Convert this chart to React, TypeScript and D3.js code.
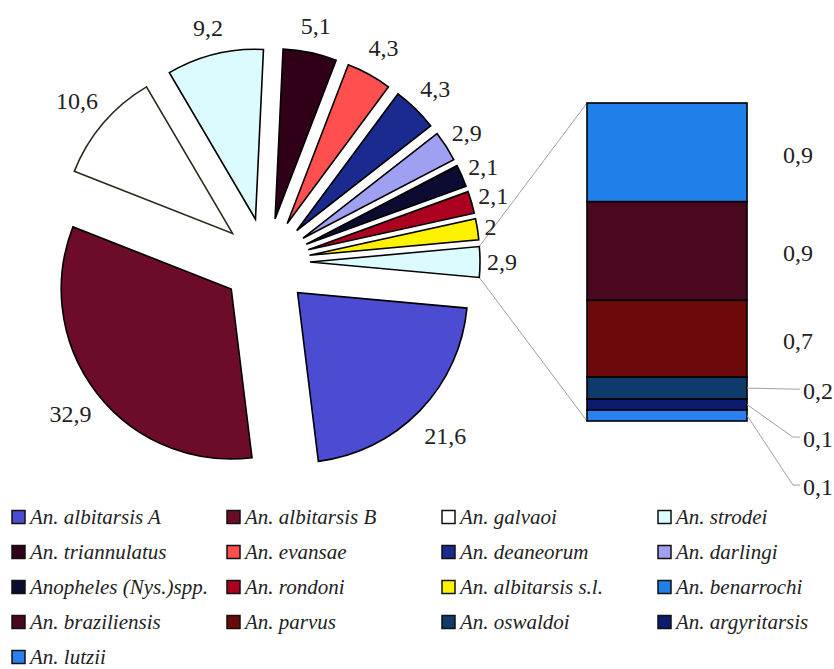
import React from 'react';
import * as d3 from 'd3';

// Species shown as pie slices (last slice groups the species detailed in the bar)
const pieNames = [
  'An. albitarsis A',
  'An. albitarsis B',
  'An. galvaoi',
  'An. strodei',
  'An. triannulatus',
  'An. evansae',
  'An. deaneorum',
  'An. darlingi',
  'Anopheles (Nys.)spp.',
  'An. rondoni',
  'An. albitarsis s.l.',
  'Outras',
];
const pieValues = [21.6, 32.9, 10.6, 9.2, 5.1, 4.3, 4.3, 2.9, 2.1, 2.1, 2, 2.9];
const pieColors = [
  '#4c4cd2',
  '#6c0c28',
  '#ffffff',
  '#dcfbff',
  '#300018',
  '#ff4f4f',
  '#1a2a8e',
  '#a0a0f2',
  '#0c0c32',
  '#ac0020',
  '#fff200',
  '#dcfbff',
];

// Species detailed in the stacked bar (top to bottom)
const barNames = ['An. benarrochi', 'An. braziliensis', 'An. parvus', 'An. oswaldoi', 'An. argyritarsis', 'An. lutzii'];
const barValues = [0.9, 0.9, 0.7, 0.2, 0.1, 0.1];
const barColors = ['#2080ea', '#4a0820', '#6c0a0a', '#0f3b6c', '#0c1a70', '#2a80f0'];

// Legend entries, row by row
const legendNames = [
  'An. albitarsis A', 'An. albitarsis B', 'An. galvaoi', 'An. strodei',
  'An. triannulatus', 'An. evansae', 'An. deaneorum', 'An. darlingi',
  'Anopheles (Nys.)spp.', 'An. rondoni', 'An. albitarsis s.l.', 'An. benarrochi',
  'An. braziliensis', 'An. parvus', 'An. oswaldoi', 'An. argyritarsis',
  'An. lutzii',
];

const W = 834;
const H = 669;
const SERIF = 'Liberation Serif';

const fmt = (v: number) => String(v).replace('.', ',');
const textWidth = (s: string, size: number) =>
  s.split('').reduce((w, c) => w + (c === ',' ? 0.25 : 0.5) * size, 0);

export default function App() {
  const cx = 266;
  const cy = 262;
  const R = 170;
  const explode = 44;
  const labelSize = 24;

  const total = d3.sum(pieValues);
  const otherAngle = (pieValues[pieValues.length - 1] / total) * 2 * Math.PI;
  const start = Math.PI / 2 + otherAngle / 2;
  const arcs = d3
    .pie<number>()
    .sort(null)
    .startAngle(start)
    .endAngle(start + 2 * Math.PI)(pieValues);
  const arcGen = d3.arc<d3.PieArcDatum<number>>().innerRadius(0).outerRadius(R);

  const slices = arcs.map((a, i) => {
    const mid = (a.startAngle + a.endAngle) / 2;
    const dx = Math.sin(mid);
    const dy = -Math.cos(mid);
    const ox = cx + explode * dx;
    const oy = cy + explode * dy;
    const txt = fmt(pieValues[i]);
    const hw = textWidth(txt, labelSize) / 2;
    const hh = 20;
    const t = Math.min(
      Math.abs(dx) > 1e-6 ? hw / Math.abs(dx) : Infinity,
      Math.abs(dy) > 1e-6 ? hh / Math.abs(dy) : Infinity
    );
    const dist = R + explode + 7 + t;
    return { a, i, ox, oy, txt, lx: cx + dist * dx, ly: cy + dist * dy };
  });

  // Bar geometry
  const barX = 587;
  const barW = 160;
  const barTop = 103;
  const barBottom = 421;
  const barTotal = pieValues[pieValues.length - 1];
  const y = d3.scaleLinear().domain([0, barTotal]).range([barBottom, barTop]);

  // stack from the bottom: last entry sits at the base
  const segs: { i: number; y0: number; y1: number }[] = [];
  let acc = 0;
  for (let i = barValues.length - 1; i >= 0; i--) {
    segs.push({ i, y0: y(acc), y1: y(acc + barValues[i]) });
    acc += barValues[i];
  }
  segs.sort((p, q) => p.i - q.i);

  // labels: small segments get pushed out with leader lines
  let prevY = -Infinity;
  const barLabels = segs.map((s) => {
    const c = (s.y0 + s.y1) / 2;
    const small = s.y0 - s.y1 < 30;
    let ly = c + 2;
    if (small) ly = Math.max(c + 3, prevY + 48);
    prevY = ly;
    return { ...s, c, ly, small };
  });

  // connector lines from the grouped slice to the bar
  const other = slices[slices.length - 1];
  const oa0 = other.a.startAngle;
  const oa1 = other.a.endAngle;
  const p0 = [other.ox + R * Math.sin(oa0), other.oy - R * Math.cos(oa0)];
  const p1 = [other.ox + R * Math.sin(oa1), other.oy - R * Math.cos(oa1)];

  const colX = [12, 227, 442, 658];
  const rowY0 = 517;
  const rowStep = 35;
  const colorOf = (name: string) => {
    const pi = pieNames.indexOf(name);
    if (pi >= 0) return pieColors[pi];
    return barColors[barNames.indexOf(name)];
  };

  return (
    <svg
      width={W}
      height={H}
      viewBox={`0 0 ${W} ${H}`}
      style={{ position: 'absolute', left: 0, top: 0, background: '#fff' }}
    >
      <rect x={0} y={0} width={W} height={H} fill="#fff" />

      <line x1={p0[0]} y1={p0[1]} x2={barX} y2={barTop} stroke="#a0a0a0" strokeWidth={1} />
      <line x1={p1[0]} y1={p1[1]} x2={barX} y2={barBottom} stroke="#a0a0a0" strokeWidth={1} />

      {slices.map((s) => (
        <path
          key={s.i}
          d={arcGen(s.a) || ''}
          transform={`translate(${s.ox},${s.oy})`}
          fill={pieColors[s.i]}
          stroke={s.i === 2 ? '#2a2a1a' : '#000'}
          strokeWidth={1.6}
          strokeLinejoin="miter"
        />
      ))}

      {slices.map((s) => (
        <text
          key={'l' + s.i}
          x={s.lx}
          y={s.ly}
          dy="0.34em"
          textAnchor="middle"
          fontSize={labelSize}
          fontFamily={SERIF}
          fill="#222"
        >
          {s.txt}
        </text>
      ))}

      {segs.map((s) => (
        <rect
          key={'b' + s.i}
          x={barX}
          y={s.y1}
          width={barW}
          height={s.y0 - s.y1}
          fill={barColors[s.i]}
          stroke="#000"
          strokeWidth={1.6}
        />
      ))}

      {barLabels.map((b) =>
        b.small ? (
          <g key={'bl' + b.i}>
            <polyline
              points={`${barX + barW},${b.c} ${barX + barW + 46},${b.ly - 2} ${barX + barW + 53},${b.ly - 2}`}
              fill="none"
              stroke="#a0a0a0"
              strokeWidth={1}
            />
            <text x={barX + barW + 56} y={b.ly} dy="0.34em" fontSize={labelSize} fontFamily={SERIF} fill="#222">
              {fmt(barValues[b.i])}
            </text>
          </g>
        ) : (
          <text key={'bl' + b.i} x={barX + barW + 36} y={b.ly} dy="0.34em" fontSize={labelSize} fontFamily={SERIF} fill="#222">
            {fmt(barValues[b.i])}
          </text>
        )
      )}

      {legendNames.map((name, k) => {
        const col = k % 4;
        const row = Math.floor(k / 4);
        const x = colX[col];
        const yy = rowY0 + row * rowStep;
        return (
          <g key={'lg' + k}>
            <rect x={x} y={yy - 6.5} width={13} height={13} fill={colorOf(name)} stroke="#111" strokeWidth={1.5} />
            <text x={x + 18} y={yy} dy="0.32em" fontSize={21} fontStyle="italic" fontFamily={SERIF} fill="#222">
              {name}
            </text>
          </g>
        );
      })}
    </svg>
  );
}
